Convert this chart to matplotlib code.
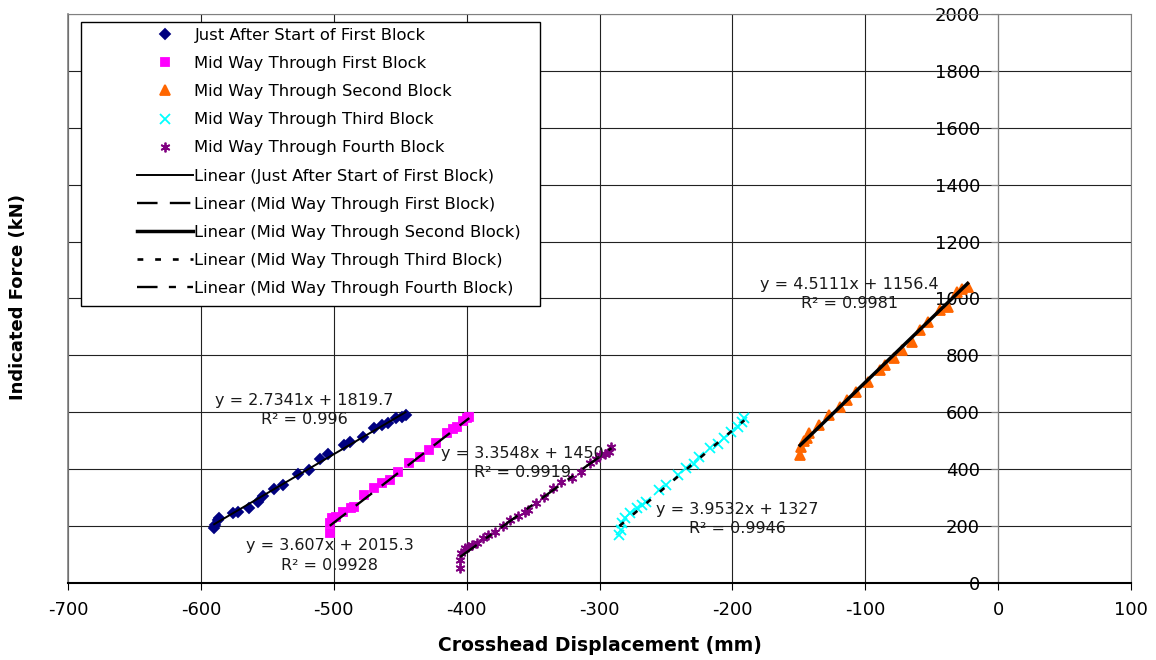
import numpy as np
import matplotlib.pyplot as plt
from matplotlib.patches import Rectangle

plt.rcParams['font.family'] = ['DejaVu Sans']
plt.rcParams['axes.unicode_minus'] = False

# values
labels = ["Just After Start of First Block", "Mid Way Through First Block",
          "Mid Way Through Second Block", "Mid Way Through Third Block",
          "Mid Way Through Fourth Block"]

x1 = [-590, -589, -587, -586, -576, -572, -564, -557, -553, -545, -538, -527,
      -519, -510, -504, -492, -488, -478, -470, -464, -459, -453, -449, -446]
y1 = [195, 205, 222, 230, 245, 248, 265, 286, 306, 329, 344, 383,
      397, 435, 453, 485, 497, 514, 544, 555, 563, 579, 584, 590]

x2 = [-503, -503, -501, -498, -493, -487, -485, -477, -470, -464, -458,
      -452, -443, -435, -428, -423, -415, -410, -407, -403, -400, -398]
y2 = [175, 210, 227, 232, 251, 262, 268, 309, 333, 350, 362,
      391, 421, 444, 468, 491, 526, 540, 549, 570, 580, 584]

x3 = [-149, -148, -146, -144, -142, -135, -127, -119, -114, -107, -98, -89,
      -85, -78, -72, -65, -59, -53, -44, -38, -31, -27, -23]
y3 = [450, 479, 500, 510, 526, 555, 590, 620, 643, 672, 707, 748,
      766, 790, 819, 848, 889, 918, 960, 971, 1024, 1035, 1042]

x4 = [-285, -284, -283, -281, -277, -272, -268, -265, -255, -250, -241,
      -235, -229, -225, -217, -211, -206, -201, -196, -193, -191]
y4 = [169, 186, 210, 227, 245, 263, 275, 286, 327, 344, 380,
      403, 420, 444, 473, 490, 508, 532, 548, 567, 579]

x5 = [-405, -405, -404, -401, -399, -396, -392, -388, -384, -379, -373, -367, -361,
      -356, -354, -348, -342, -335, -329, -321, -314, -307, -303, -300, -296, -293, -291]
y5 = [52, 81, 104, 122, 128, 133, 140, 157, 168, 180, 200, 221, 235,
      251, 257, 280, 303, 333, 356, 368, 391, 421, 435, 450, 455, 462, 479]

# trendline coefficients as printed on the chart
slopes = [2.7341, 3.607, 4.5111, 3.9532, 3.3548]
intercepts = [1819.7, 2015.3, 1156.4, 1327, 1450]
r2_text = ["0.996", "0.9928", "0.9981", "0.9946", "0.9919"]
eq_pos = [(-522, 608), (-503, 98), (-112, 1016), (-196, 225), (-358, 422)]

xs = [x1, x2, x3, x4, x5]
ys = [y1, y2, y3, y4, y5]

markers = ['D', 's', '^', 'x', (6, 2, 0)]
colors = ['#000080', '#FF00FF', '#FF6600', '#00FFFF', '#800080']
msizes = [5.5, 6, 7, 7, 7]
line_styles = ['-', (0, (8.7, 5.2)), '-', (0, (2.2, 4.5)), (0, (8.7, 4.8, 3, 4.8))]
line_widths = [1.4, 1.7, 2.5, 1.9, 1.7]

fig = plt.figure(figsize=(11.56, 6.6), dpi=100)
ax = fig.add_axes([68 / 1156, 77 / 660, 1063 / 1156, 569 / 660])

for x, y, m, c, s, lab in zip(xs, ys, markers, colors, msizes, labels):
    ax.plot(x, y, linestyle='none', marker=m, ms=s, color=c, mew=1.3, label=lab)

for x, k, b, ls, lw, lab in zip(xs, slopes, intercepts, line_styles, line_widths, labels):
    xx = np.array([min(x), max(x)])
    ax.plot(xx, k * xx + b, color='black', ls=ls, lw=lw, label='Linear (' + lab + ')')

for (px, py), k, b, r in zip(eq_pos, slopes, intercepts, r2_text):
    ax.text(px, py, f"y = {k:g}x + {b:g}\nR² = {r}", ha='center', va='center',
            fontsize=11.5, color='#1a1a1a', linespacing=1.4, multialignment='center')

ax.set_xlim(-700, 100)
ax.set_ylim(0, 2000)
ax.set_xticks(range(-700, 101, 100))
ax.set_yticks(range(0, 2001, 200))
ax.grid(True, color='#222222', lw=0.8)
ax.set_axisbelow(True)

ax.spines['left'].set_position(('data', 0))
ax.spines['left'].set_color('#808080')
ax.spines['top'].set_color('#808080')
ax.spines['right'].set_color('#808080')
ax.spines['bottom'].set_color('black')
ax.spines['bottom'].set_linewidth(1.5)
ax.axvline(-700, color='#808080', lw=1.2, clip_on=False)

ax.tick_params(axis='y', direction='out', length=5, pad=8, labelsize=13, color='#808080')
ax.tick_params(axis='x', direction='out', length=5, pad=8, labelsize=13, color='black')

ax.set_xlabel('Crosshead Displacement (mm)', fontsize=13.5, fontweight='bold', labelpad=12)
fig.text(18 / 1156, 0.55, 'Indicated Force (kN)', rotation=90, ha='center', va='center',
         fontsize=13, fontweight='bold')

# legend frame drawn by hand to get the wide left margin
ax.add_patch(Rectangle(((81 - 68) / 1063, (583 - 306) / 569), 459 / 1063, 284 / 569,
                       transform=ax.transAxes, facecolor='white', edgecolor='black',
                       lw=1, zorder=4))
ax.legend(loc='upper left', bbox_to_anchor=((137 - 68) / 1063, (583 - 28) / 569),
          frameon=False, fontsize=11.8, handlelength=3.4, handletextpad=0.1,
          labelspacing=0.8, borderpad=0, borderaxespad=0, numpoints=1)

fig.savefig('out.png', dpi=100)
